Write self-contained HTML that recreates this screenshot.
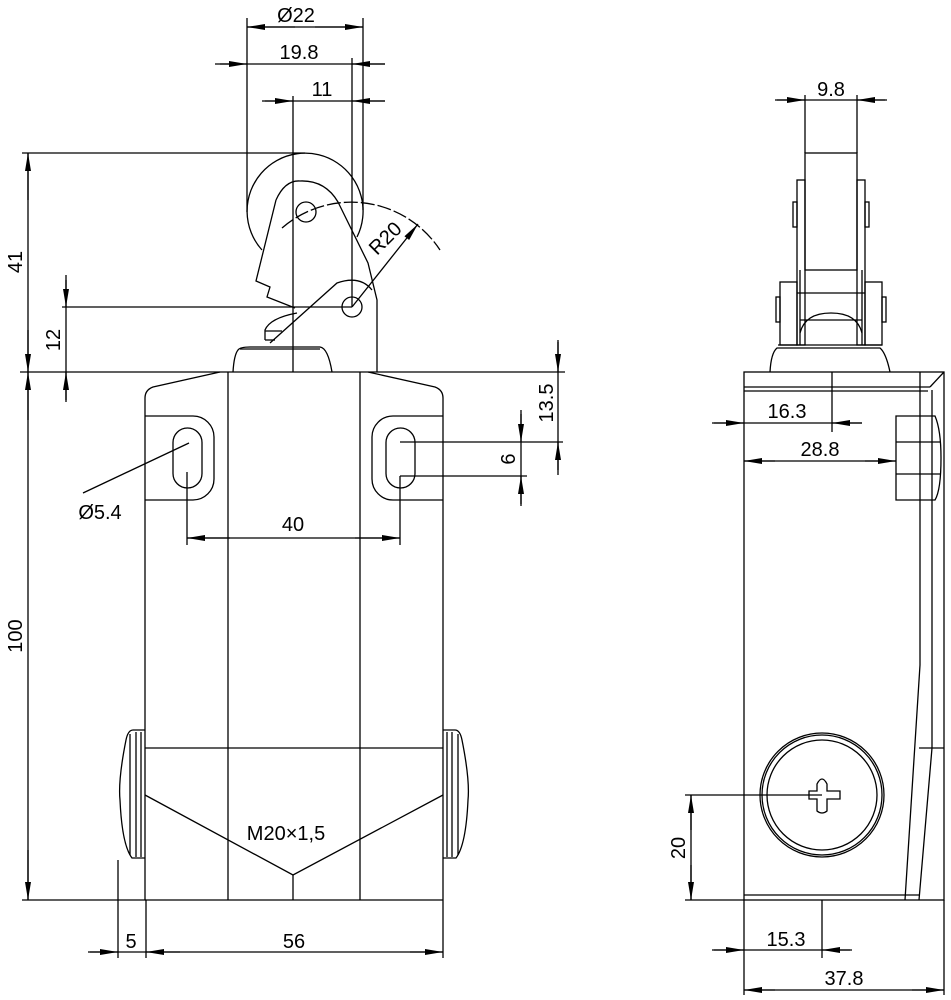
<!DOCTYPE html>
<html><head><meta charset="utf-8"><style>
html,body{margin:0;padding:0;background:#fff}
svg{display:block}
text{font-family:"Liberation Sans",sans-serif;font-size:20px;fill:#000;font-weight:300}
</style></head><body>
<svg width="951" height="1000" viewBox="0 0 951 1000" xmlns="http://www.w3.org/2000/svg">
<defs>
<marker id="a" markerUnits="userSpaceOnUse" markerWidth="22" markerHeight="10" refX="20" refY="5" orient="auto">
<path d="M20,5 L2,2 L2,8 Z" fill="#000"/>
</marker>
</defs>
<g fill="none" stroke="#000" stroke-width="1.3">
<!-- ===== FRONT VIEW ===== -->
<!-- top base line -->
<line x1="20" y1="372" x2="565" y2="372"/>
<!-- body -->
<path d="M145,900 V398 Q145,390 153,387 L220,372"/>
<path d="M443,900 V398 Q443,390 435,387 L368,372"/>
<line x1="145" y1="900" x2="443" y2="900"/>
<line x1="228" y1="372" x2="228" y2="900"/>
<line x1="360" y1="372" x2="360" y2="900"/>
<line x1="145" y1="748" x2="443" y2="748"/>
<path d="M145,795 L293,875 L443,795"/>
<line x1="293" y1="875" x2="293" y2="900"/>
<!-- ears -->
<path d="M145,416 H193 A21,21 0 0 1 214,437 V479 A21,21 0 0 1 193,500 H145"/>
<path d="M443,416 H393 A21,21 0 0 0 372,437 V479 A21,21 0 0 0 393,500 H443"/>
<rect x="173" y="428" width="29" height="60" rx="14.5"/>
<rect x="386" y="428" width="29" height="60" rx="14.5"/>
<!-- glands -->
<path d="M145,730 H133 Q128,730 126,740 Q118,780 120,800 Q122,845 132,858 H145"/>
<line x1="130" y1="734" x2="130" y2="855"/><line x1="136" y1="732" x2="136" y2="857"/><line x1="141" y1="732" x2="141" y2="857"/>
<path d="M443,730 H455 Q460,730 462,740 Q470,780 468,800 Q466,845 456,858 H443"/>
<line x1="458" y1="734" x2="458" y2="855"/><line x1="452" y1="732" x2="452" y2="857"/><line x1="447" y1="732" x2="447" y2="857"/>
<!-- plunger -->
<path d="M233,372 Q234,355 238,350 Q240,347 250,347 L320,347 Q328,348 332,372"/>
<line x1="240" y1="349" x2="320" y2="349"/>
<path d="M265,340 V330 Q270,318 297,313"/>
<line x1="265" y1="331" x2="282" y2="331"/>
<line x1="265" y1="340" x2="275" y2="340"/>
<!-- lever -->
<path d="M262,250 A58,58 0 1 1 357,237"/>
<path d="M276,200 Q285,180 300,181 Q325,180 338,202 L368,263 L377,300 V372"/>
<path d="M276,200 L256,281 L270,287 L267,297 L295,308"/>
<path d="M270,343 L337,283 Q360,275 372,290"/>
<circle cx="306" cy="212" r="10"/>
<circle cx="352" cy="307" r="10"/>
<!-- center line & R20 -->
<line x1="293" y1="96" x2="293" y2="372"/>
<path d="M282,228 A106,106 0 0 1 440,250" stroke-dasharray="14,3"/>
<line x1="352" y1="307" x2="418" y2="224" marker-end="url(#a)"/>
<!-- extension lines -->
<line x1="22" y1="153" x2="305" y2="153"/>
<line x1="62" y1="307" x2="352" y2="307"/>
<line x1="247" y1="18" x2="247" y2="212"/>
<line x1="363" y1="18" x2="363" y2="210"/>
<line x1="352" y1="58" x2="352" y2="307"/>
<!-- dims front -->
<line x1="247" y1="27" x2="363" y2="27"/>
<line x1="295" y1="27" x2="247" y2="27" marker-end="url(#a)"/>
<line x1="315" y1="27" x2="363" y2="27" marker-end="url(#a)"/>
<line x1="215" y1="64" x2="385" y2="64"/>
<line x1="220" y1="64" x2="247" y2="64" marker-end="url(#a)"/>
<line x1="385" y1="64" x2="352" y2="64" marker-end="url(#a)"/>
<line x1="262" y1="101" x2="385" y2="101"/>
<line x1="265" y1="101" x2="293" y2="101" marker-end="url(#a)"/>
<line x1="385" y1="101" x2="352" y2="101" marker-end="url(#a)"/>
<line x1="28" y1="153" x2="28" y2="900"/>
<line x1="28" y1="200" x2="28" y2="153" marker-end="url(#a)"/>
<line x1="28" y1="330" x2="28" y2="372" marker-end="url(#a)"/>
<line x1="28" y1="420" x2="28" y2="372" marker-end="url(#a)"/>
<line x1="28" y1="850" x2="28" y2="900" marker-end="url(#a)"/>
<line x1="22" y1="900" x2="146" y2="900"/>
<line x1="66" y1="275" x2="66" y2="402"/>
<line x1="66" y1="280" x2="66" y2="307" marker-end="url(#a)"/>
<line x1="66" y1="400" x2="66" y2="372" marker-end="url(#a)"/>
<line x1="558" y1="340" x2="558" y2="475"/>
<line x1="558" y1="342" x2="558" y2="372" marker-end="url(#a)"/>
<line x1="558" y1="470" x2="558" y2="442" marker-end="url(#a)"/>
<line x1="400" y1="442" x2="563" y2="442"/>
<line x1="400" y1="476" x2="527" y2="476"/>
<line x1="521" y1="410" x2="521" y2="506"/>
<line x1="521" y1="414" x2="521" y2="442" marker-end="url(#a)"/>
<line x1="521" y1="504" x2="521" y2="476" marker-end="url(#a)"/>
<line x1="187" y1="472" x2="187" y2="545"/>
<line x1="400" y1="476" x2="400" y2="545"/>
<line x1="187" y1="538" x2="400" y2="538"/>
<line x1="230" y1="538" x2="187" y2="538" marker-end="url(#a)"/>
<line x1="355" y1="538" x2="400" y2="538" marker-end="url(#a)"/>
<line x1="189" y1="443" x2="83" y2="493"/>
<line x1="118" y1="860" x2="118" y2="958"/>
<line x1="146" y1="900" x2="146" y2="958"/>
<line x1="443" y1="900" x2="443" y2="958"/>
<line x1="88" y1="952" x2="443" y2="952"/>
<line x1="90" y1="952" x2="118" y2="952" marker-end="url(#a)"/>
<line x1="180" y1="952" x2="146" y2="952" marker-end="url(#a)"/>
<line x1="410" y1="952" x2="443" y2="952" marker-end="url(#a)"/>

<!-- ===== SIDE VIEW ===== -->
<rect x="744" y="372" width="200" height="528"/>
<line x1="744" y1="387" x2="930" y2="387"/>
<line x1="744" y1="391" x2="928" y2="391"/>
<line x1="930" y1="387" x2="944" y2="372"/>
<line x1="832" y1="372" x2="832" y2="432"/>
<path d="M920,372 V665 L905,900"/>
<path d="M932,390 V748 L919,900"/>
<line x1="919" y1="748" x2="944" y2="748"/>
<line x1="744" y1="895" x2="920" y2="895"/>
<path d="M896,416 H935 Q941,430 941,458 Q941,490 935,500 H896 Z"/>
<line x1="896" y1="442" x2="941" y2="442"/>
<line x1="896" y1="474" x2="941" y2="474"/>
<circle cx="822" cy="795" r="62"/>
<circle cx="822" cy="795" r="60"/>
<circle cx="822" cy="795" r="55"/>
<path d="M817,784 Q822,774 827,784 V791 H840 V799 H827 V811 Q822,815 817,811 V799 H809 V791 H817 Z"/>
<!-- roller side -->
<path d="M770,372 Q771,353 777,348 L880,348 Q886,353 890,372"/>
<line x1="778" y1="345" x2="882" y2="345"/>
<rect x="805" y="153" width="52" height="117"/>
<line x1="805" y1="95" x2="805" y2="153"/>
<line x1="857" y1="95" x2="857" y2="153"/>
<rect x="797" y="180" width="8" height="165"/>
<rect x="857" y="180" width="8" height="165"/>
<rect x="793" y="202" width="4" height="25"/>
<rect x="865" y="202" width="4" height="25"/>
<rect x="780" y="282" width="17" height="63"/>
<rect x="865" y="282" width="17" height="63"/>
<rect x="776" y="297" width="4" height="25"/>
<rect x="882" y="297" width="4" height="25"/>
<line x1="797" y1="293" x2="865" y2="293"/>
<line x1="800" y1="270" x2="800" y2="345"/>
<line x1="862" y1="270" x2="862" y2="345"/>
<path d="M800,333 Q805,313 831,313 Q857,313 862,333"/>
<line x1="800" y1="320" x2="862" y2="320"/>
<!-- dims side -->
<line x1="775" y1="100" x2="887" y2="100"/>
<line x1="777" y1="100" x2="805" y2="100" marker-end="url(#a)"/>
<line x1="885" y1="100" x2="857" y2="100" marker-end="url(#a)"/>
<line x1="712" y1="423" x2="862" y2="423"/>
<line x1="714" y1="423" x2="744" y2="423" marker-end="url(#a)"/>
<line x1="862" y1="423" x2="832" y2="423" marker-end="url(#a)"/>
<line x1="744" y1="461" x2="896" y2="461"/>
<line x1="775" y1="461" x2="744" y2="461" marker-end="url(#a)"/>
<line x1="865" y1="461" x2="896" y2="461" marker-end="url(#a)"/>
<line x1="685" y1="795" x2="822" y2="795"/>
<line x1="685" y1="900" x2="744" y2="900"/>
<line x1="691" y1="795" x2="691" y2="900"/>
<line x1="691" y1="830" x2="691" y2="795" marker-end="url(#a)"/>
<line x1="691" y1="865" x2="691" y2="900" marker-end="url(#a)"/>
<line x1="744" y1="900" x2="744" y2="995"/>
<line x1="822" y1="900" x2="822" y2="958"/>
<line x1="944" y1="900" x2="944" y2="995"/>
<line x1="712" y1="950" x2="852" y2="950"/>
<line x1="714" y1="950" x2="744" y2="950" marker-end="url(#a)"/>
<line x1="850" y1="950" x2="822" y2="950" marker-end="url(#a)"/>
<line x1="744" y1="990" x2="944" y2="990"/>
<line x1="775" y1="990" x2="744" y2="990" marker-end="url(#a)"/>
<line x1="912" y1="990" x2="944" y2="990" marker-end="url(#a)"/>
</g>
<!-- labels -->
<text x="296" y="22" text-anchor="middle">Ø22</text>
<text x="299" y="59" text-anchor="middle">19.8</text>
<text x="322" y="96" text-anchor="middle">11</text>
<text x="0" y="0" text-anchor="middle" transform="translate(390,243) rotate(-45)">R20</text>
<text x="0" y="0" text-anchor="middle" transform="translate(22,262) rotate(-90)">41</text>
<text x="0" y="0" text-anchor="middle" transform="translate(60,340) rotate(-90)">12</text>
<text x="0" y="0" text-anchor="middle" transform="translate(22,636) rotate(-90)">100</text>
<text x="0" y="0" text-anchor="middle" transform="translate(553,403) rotate(-90)">13.5</text>
<text x="0" y="0" text-anchor="middle" transform="translate(515,459) rotate(-90)">6</text>
<text x="100" y="519" text-anchor="middle">Ø5.4</text>
<text x="293" y="531" text-anchor="middle">40</text>
<text x="286" y="840" text-anchor="middle">M20×1,5</text>
<text x="131" y="948" text-anchor="middle">5</text>
<text x="294" y="948" text-anchor="middle">56</text>
<text x="831" y="96" text-anchor="middle">9.8</text>
<text x="787" y="418" text-anchor="middle">16.3</text>
<text x="820" y="456" text-anchor="middle">28.8</text>
<text x="0" y="0" text-anchor="middle" transform="translate(685,848) rotate(-90)">20</text>
<text x="786" y="946" text-anchor="middle">15.3</text>
<text x="844" y="985" text-anchor="middle">37.8</text>
</svg>
</body></html>
